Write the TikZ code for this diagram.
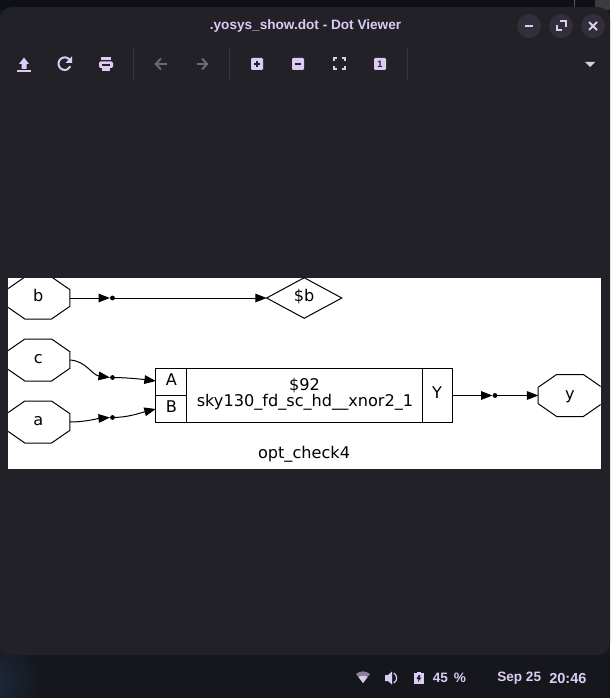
\documentclass[tikz,border=0pt]{standalone}
\usepackage{fontspec}
\setmainfont{DejaVu Sans}
\newfontfamily\uifont{Liberation Sans}
\usetikzlibrary{arrows.meta,calc}
\definecolor{desk}{HTML}{15171D}
\definecolor{deskblue}{HTML}{1E2A3C}
\definecolor{wintop}{HTML}{0D1116}
\definecolor{winbg}{HTML}{232128}
\definecolor{lav}{HTML}{DCCBF3}
\definecolor{lavdim}{HTML}{6E6779}
\definecolor{wifidim}{HTML}{8A8199}
\definecolor{sepc}{HTML}{37343C}
\definecolor{btn}{HTML}{332F3A}
\definecolor{wire}{HTML}{000000}
\tikzset{
  x=0.75pt,y=-0.75pt,
  gline/.style={draw=wire,line width=0.75pt},
  glabel/.style={inner sep=0,anchor=base,font=\fontsize{12.1}{14}\selectfont,text=black},
  junction/.style={circle,fill=black,inner sep=0,minimum size=3.6pt},
  wired/.style={gline,-{Triangle[length=8.5pt,width=6.5pt,fill=black]}},
  icon/.style={fill=lav,draw=none},
  iconline/.style={draw=lav,line width=1.5pt},
  dimline/.style={draw=lavdim,line width=1.5pt},
  uitext/.style={inner sep=0,text=lav,font=\uifont\bfseries\fontsize{10.2}{12}\selectfont},
  sepline/.style={draw=sepc,line width=0.75pt},
}
% #1 name, #2 cx, #3 cy, #4 label
\newcommand{\octa}[4]{%
  \node[inner sep=0,minimum width=47.25pt,minimum height=31.1pt] (#1) at (#2,#3) {};
  \node[glabel] (#1t) at (#2,#3+3.5) {#4};
  \draw[gline] ($(#1.west)+(0,6.2pt)$) -- ($(#1.north west)+(13.8pt,0)$) -- ($(#1.north east)+(-13.8pt,0)$) -- ($(#1.east)+(0,6.2pt)$) -- ($(#1.east)+(0,-6.2pt)$) -- ($(#1.south east)+(-13.8pt,0)$) -- ($(#1.south west)+(13.8pt,0)$) -- ($(#1.west)+(0,-6.2pt)$) -- cycle;
}
\begin{document}
\begin{tikzpicture}
\useasboundingbox (0,0) rectangle (610,698);
% desktop
\fill[desk] (0,0) rectangle (610,698);
\fill[wintop] (0,0) rectangle (610,10);
\begin{scope}
\clip (0,640) rectangle (60,698);
\shade[inner color=deskblue,outer color=desk] (-8,680) circle (36pt);
\end{scope}
\fill[black!50!desk!80!white] (595,0) rectangle (610,10);
\draw[gray!70!black,line width=0.5pt] (574.5,0) -- (574.5,7);
% window
\fill[winbg,rounded corners=9pt] (0,7) rectangle (610,655);
% title and buttons
\node[uitext] (title) at (305.5,25.5) {.yosys\_show.dot - Dot Viewer};
\foreach \n/\cx in {bmin/529,bmax/561,bclose/593}{
  \fill[btn] (\cx,26) circle (9pt);
}
\draw[draw=lav,line width=1.5pt] (525,26) -- (533,26);
\draw[draw=lav,line width=1.5pt] (556.5,25) -- (556.5,30.5) -- (562,30.5);
\draw[draw=lav,line width=1.5pt] (560,21.5) -- (565.5,21.5) -- (565.5,27);
\draw[draw=lav,line width=1.5pt] (589,22) -- (597,30);
\draw[draw=lav,line width=1.5pt] (597,22) -- (589,30);
% separators
\foreach \sx in {133.5,229.5,407.5}{
  \draw[sepline] (\sx,48) -- (\sx,80);
}
% upload
\fill[icon] (24,57.5) -- (29,64) -- (26.5,64) -- (26.5,69) -- (21.5,69) -- (21.5,64) -- (19,64) -- cycle;
\fill[icon] (17,70.5) rectangle (31,72);
% reload
\draw[iconline] (70.5,61) arc[start angle=-25,end angle=-335,radius=6.3];
\fill[icon] (72,56.5) -- (72,63) -- (65.5,63) -- cycle;
% print
\fill[icon] (101,57) rectangle (111,60.5);
\fill[icon,rounded corners=1pt] (99,61.5) rectangle (113,68);
\fill[icon] (102,65) rectangle (110,71);
\fill[winbg] (102,64.5) rectangle (110,66);
% back forward
\draw[dimline] (166.5,64) -- (156,64);
\draw[dimline] (161,58.5) -- (155.8,64) -- (161,69.5);
\draw[dimline] (196.5,64) -- (207,64);
\draw[dimline] (202,58.5) -- (207.2,64) -- (202,69.5);
% plus
\fill[icon,rounded corners=0.8pt] (251,58) rectangle (263,70);
\fill[winbg] (256,61) rectangle (258,67);
\fill[winbg] (254,63) rectangle (260,65);
% minus
\fill[icon,rounded corners=0.8pt] (292,58) rectangle (304,70);
\fill[winbg] (295,63) rectangle (301,65);
% fullscreen
\draw[iconline] (333.5,61.5) -- (333.5,58.5) -- (336.5,58.5);
\draw[iconline] (341.5,58.5) -- (344.5,58.5) -- (344.5,61.5);
\draw[iconline] (344.5,66.5) -- (344.5,69.5) -- (341.5,69.5);
\draw[iconline] (336.5,69.5) -- (333.5,69.5) -- (333.5,66.5);
% one
\fill[icon,rounded corners=0.8pt] (374,58) rectangle (386,70);
\node[inner sep=0,text=winbg,font=\uifont\bfseries\fontsize{7}{8}\selectfont] (onelab) at (380,64) {1};
% dropdown
\fill[icon] (585,62) -- (595,62) -- (590,67) -- cycle;
% graph canvas
\fill[white] (8,278) rectangle (601,469);
\begin{scope}
\clip (8,278) rectangle (600.7,469);
\octa{nb}{38.2}{298}{b}
\octa{nc}{38.2}{360}{c}
\octa{na}{38.2}{422}{a}
\octa{ny}{570}{395.5}{y}
\end{scope}
% diamond
\node[inner sep=0,minimum width=56pt,minimum height=30pt] (db) at (304.2,298) {};
\draw[gline] (db.west) -- (db.north) -- (db.east) -- (db.south) -- cycle;
\node[glabel] (dblab) at (304.2,301) {\$b};
% cell
\node[inner sep=0,minimum width=222pt,minimum height=39.75pt] (cell) at (304,395.5) {};
\draw[gline] (cell.north west) rectangle (cell.south east);
\coordinate (pa) at ($(cell.west)+(0,-14.5)$);
\coordinate (pb) at ($(cell.west)+(0,13.5)$);
\coordinate (py) at (cell.east);
\draw[gline] ($(cell.north west)+(31,0)$) -- ($(cell.south west)+(31,0)$);
\draw[gline] ($(cell.north east)+(-30,0)$) -- ($(cell.south east)+(-30,0)$);
\draw[gline] (cell.west) -- ($(cell.west)+(31,0)$);
\node[glabel] (la) at (171.5,385) {A};
\node[glabel] (lb) at (171.5,412) {B};
\node[glabel] (ly) at (437,398) {Y};
\node[glabel] (ln1) at (304.5,390) {\$92};
\node[glabel] (ln2) at (305,406.7) {sky130\_fd\_sc\_hd\_\_xnor2\_1};
\node[glabel] (title2) at (304,458) {opt\_check4};
% junctions
\node[junction] (jb) at (112.5,298) {};
\node[junction] (jc) at (112.5,377.5) {};
\node[junction] (ja) at (112.5,417.5) {};
\node[junction] (jy) at (495,395.5) {};
% wires
\draw[wired] (nb.east) -- (jb);
\draw[wired] (jb.center) -- (db.west);
\draw[wired] (nc.east) .. controls (86,361) and (92,375) .. (jc.west);
\draw[wired] (jc.center) .. controls (125,377.5) and (140,379) .. (pa);
\draw[wired] (na.east) .. controls (85,422) and (98,418.5) .. (ja.west);
\draw[wired] (ja.center) .. controls (128,417.5) and (140,413) .. (pb);
\draw[wired] (py) -- (jy);
\draw[wired] (jy.center) -- (ny.west);
% status bar
\fill[wifidim] (356,674) .. controls (360,670.5) and (366,670.5) .. (370,674) -- (363,683) -- cycle;
\fill[lav] (358.5,677) .. controls (361,675.5) and (365,675.5) .. (367.5,677) -- (363,683) -- cycle;
\fill[icon] (385,675) -- (388,675) -- (392,671.5) -- (392,684.5) -- (388,681) -- (385,681) -- cycle;
\draw[draw=lav,line width=0.9pt] (393.7,673) arc[start angle=-60,end angle=60,radius=5.8];
\fill[icon] (414,673) rectangle (424,684);
\fill[icon] (417,671.5) rectangle (421,673);
\fill[winbg] (418.7,675) -- (416.5,679) -- (418.5,679) -- (418,682) -- (421.5,677.5) -- (419.5,677.5) -- (420.3,675) -- cycle;
\node[uitext,anchor=west] (pct) at (432.5,678) {45 \,\%};
\node[uitext,anchor=west] (dt) at (497,678) {Sep 25};
\node[uitext,anchor=west,font=\uifont\bfseries\fontsize{10.9}{12}\selectfont] (tm) at (549,678) {20:46};
\end{tikzpicture}
\end{document}
